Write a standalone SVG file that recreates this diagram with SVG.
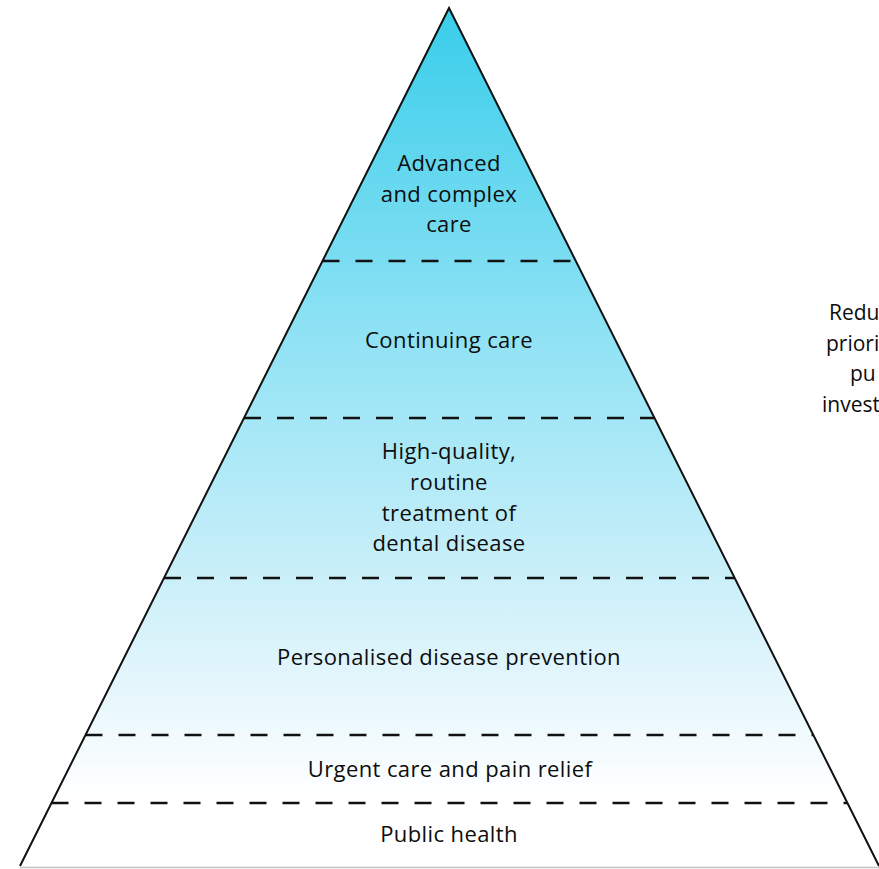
<svg xmlns="http://www.w3.org/2000/svg" width="879" height="869" viewBox="0 0 879 869">
  <style>
    .lbl { font-family: "Open Sans", "Noto Sans", "Liberation Sans", sans-serif; font-size: 22px; letter-spacing: 0.4px; fill: #0d0d0d; text-anchor: middle; }
    .side { font-family: "Open Sans", "Noto Sans", "Liberation Sans", sans-serif; font-size: 21px; letter-spacing: 0px; fill: #0d0d0d; }
    .tier { stroke: #111; stroke-width: 2.4; stroke-dasharray: 17 16; fill: none; }
  </style>
  <defs>
    <linearGradient id="fade" gradientUnits="userSpaceOnUse" x1="0" y1="8" x2="0" y2="866">
      <stop offset="0" stop-color="#38cdea"/>
      <stop offset="0.38" stop-color="#8fe2f4"/>
      <stop offset="0.72" stop-color="#d6f2fa"/>
      <stop offset="0.92" stop-color="#ffffff"/>
      <stop offset="1" stop-color="#ffffff"/>
    </linearGradient>
  </defs>
  <rect width="879" height="869" fill="#ffffff"/>

  <!-- pyramid body -->
  <g id="pyramid">
    <polygon points="449,8 20,866 879,866" fill="url(#fade)"/>
    <line x1="20" y1="867.5" x2="879" y2="867.5" stroke="#c4c4c4" stroke-width="1.5"/>
  </g>

  <!-- tier boundaries -->
  <g id="connectors">
    <line class="tier" x1="322.5" y1="261" x2="575.7" y2="261"/>
    <line class="tier" x1="244" y1="418" x2="654.2" y2="418"/>
    <line class="tier" x1="164" y1="578" x2="734.3" y2="578"/>
    <line class="tier" x1="85.5" y1="735" x2="812.9" y2="735"/>
    <line class="tier" x1="51.5" y1="803" x2="847" y2="803"/>
  </g>

  <polyline points="20,866 449,8 879,866" fill="none" stroke="#111" stroke-width="2" stroke-linejoin="miter"/>

  <g id="advanced-care">
    <text class="lbl" x="449" y="171">Advanced</text>
    <text class="lbl" x="449" y="202">and complex</text>
    <text class="lbl" x="449" y="232">care</text>
  </g>
  <g id="continuing-care">
    <text class="lbl" x="449" y="348">Continuing care</text>
  </g>
  <g id="routine-treatment">
    <text class="lbl" x="449" y="459">High-quality,</text>
    <text class="lbl" x="449" y="490">routine</text>
    <text class="lbl" x="449" y="520.5">treatment of</text>
    <text class="lbl" x="449" y="551">dental disease</text>
  </g>
  <g id="prevention">
    <text class="lbl" x="449" y="665">Personalised disease prevention</text>
  </g>
  <g id="urgent-care">
    <text class="lbl" x="450" y="777">Urgent care and pain relief</text>
  </g>
  <g id="public-health">
    <text class="lbl" x="449" y="842">Public health</text>
  </g>

  <g id="priority-note">
    <text class="side" x="829" y="320">Redu</text>
    <text class="side" x="826" y="350.5">priori</text>
    <text class="side" x="850" y="381">pu</text>
    <text class="side" x="822" y="411.5">invest</text>
  </g>
</svg>
